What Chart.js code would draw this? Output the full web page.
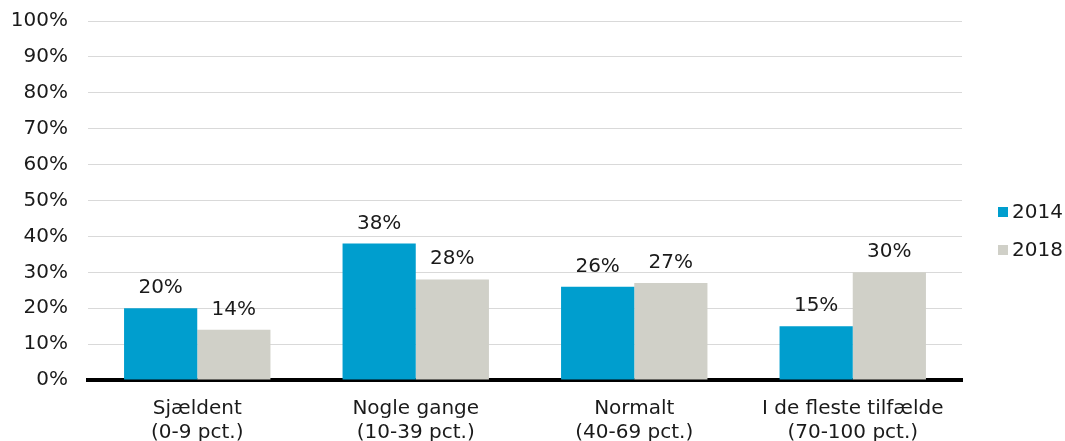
<!DOCTYPE html>
<html><head><meta charset="utf-8">
<script src="https://cdn.jsdelivr.net/npm/chart.js@4"></script>
<style>html,body{margin:0;padding:0;background:#fff}#wrap{width:1065px;height:441px}</style>
</head><body><div id="wrap"><canvas id="c" width="1065" height="441"></canvas></div>
<script>
const categories = [["Sjældent","(0-9 pct.)"],["Nogle gange","(10-39 pct.)"],["Normalt","(40-69 pct.)"],["I de fleste tilfælde","(70-100 pct.)"]];
const seriesNames = ["2014","2018"];
const values2014 = [20,38,26,15];
const values2018 = [14,28,27,30];
const colors = ["#009ECE","#D0D0C8"];
const FONT = "DejaVu Sans";

const labelPlugin = {
  id:'labels',
  afterDatasetsDraw(chart){
    const ctx = chart.ctx;
    ctx.save();
    ctx.font = "20px '"+FONT+"'";
    ctx.fillStyle = "#1a1a1a";
    ctx.textAlign = "center";
    ctx.textBaseline = "alphabetic";
    chart.data.datasets.forEach((ds,i)=>{
      chart.getDatasetMeta(i).data.forEach((bar,j)=>{
        ctx.fillText(ds.data[j]+"%", bar.x, bar.y-15);
      });
    });
    const ly = [212,250];
    seriesNames.forEach((n,i)=>{
      ctx.fillStyle = colors[i];
      ctx.fillRect(998, ly[i]-5, 10, 10);
      ctx.fillStyle = "#1a1a1a";
      ctx.textAlign = "left";
      ctx.textBaseline = "middle";
      ctx.fillText(n, 1012, ly[i]+1);
    });
    ctx.restore();
  }
};

new Chart(document.getElementById('c'),{
  type:'bar',
  data:{labels:categories,datasets:[
    {label:seriesNames[0],data:values2014,backgroundColor:colors[0]},
    {label:seriesNames[1],data:values2018,backgroundColor:colors[1]}
  ]},
  options:{
    responsive:false,animation:false,
    layout:{padding:{left:0,right:103,top:21,bottom:0}},
    plugins:{legend:{display:false},tooltip:{enabled:false}},
    datasets:{bar:{categoryPercentage:0.67,barPercentage:1}},
    scales:{
      x:{
        grid:{display:false,drawTicks:false},
        border:{color:'#000',width:4},
        ticks:{color:'#1a1a1a',font:{family:FONT,size:20},padding:17,maxRotation:0,autoSkip:false},
        afterFit(s){s.height=61;s.paddingLeft=0;s.paddingRight=0;}
      },
      y:{
        min:0,max:100,
        grid:{color:'#d9d9d9',lineWidth:1,drawTicks:false},
        border:{display:false},
        ticks:{stepSize:10,color:'#1a1a1a',font:{family:FONT,size:20},padding:20,callback:v=>v+"%"},
        afterFit(s){s.width=88;s.paddingTop=0;s.paddingBottom=0;}
      }
    }
  },
  plugins:[labelPlugin]
});
</script></body></html>
